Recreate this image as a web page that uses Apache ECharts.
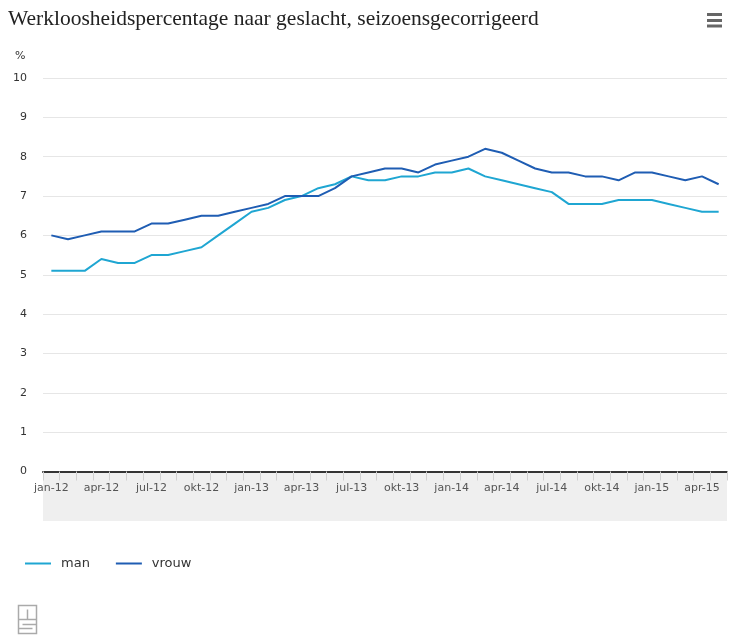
<!DOCTYPE html>
<html>
<head>
<meta charset="utf-8">
<script src="https://cdn.jsdelivr.net/npm/echarts@6/dist/echarts.min.js"></script>
<style>
html,body{margin:0;padding:0;background:#fff;}
#chart{width:750px;height:638px;}
</style>
</head>
<body>
<div id="chart"></div>
<script>
const months = ['jan','feb','mrt','apr','mei','jun','jul','aug','sep','okt','nov','dec'];
const categories = [];
for (const yr of ['12','13','14','15']) {
  for (const m of months) categories.push(m + '-' + yr);
}
categories.length = 41; // jan-12 .. mei-15

const man = [5.1,5.1,5.1,5.4,5.3,5.3,5.5,5.5,5.6,5.7,6.0,6.3,
             6.6,6.7,6.9,7.0,7.2,7.3,7.5,7.4,7.4,7.5,7.5,7.6,
             7.6,7.7,7.5,7.4,7.3,7.2,7.1,6.8,6.8,6.8,6.9,6.9,
             6.9,6.8,6.7,6.6,6.6];
const vrouw = [6.0,5.9,6.0,6.1,6.1,6.1,6.3,6.3,6.4,6.5,6.5,6.6,
               6.7,6.8,7.0,7.0,7.0,7.2,7.5,7.6,7.7,7.7,7.6,7.8,
               7.9,8.0,8.2,8.1,7.9,7.7,7.6,7.6,7.5,7.5,7.4,7.6,
               7.6,7.5,7.4,7.5,7.3];

const titleText = 'Werkloosheidspercentage naar geslacht, seizoensgecorrigeerd';
const unitText = '%';

const chart = echarts.init(document.getElementById('chart'));
chart.setOption({
  animation: false,
  title: {
    text: titleText,
    left: 3, top: 3,
    textStyle: {fontFamily: 'Liberation Serif', fontSize: 21.5, fontWeight: 'normal', color: '#222'}
  },
  legend: {
    left: 20, top: 552,
    itemWidth: 26, itemHeight: 14, itemGap: 26,
    icon: 'path://M0,6 L26,6 L26,8 L0,8 Z',
    textStyle: {fontFamily: 'DejaVu Sans', fontSize: 13, color: '#333', padding: [0,0,0,5]},
    data: ['man','vrouw']
  },
  grid: {left: 43, right: 23, top: 78, bottom: 166.5, containLabel: false},
  xAxis: {
    type: 'category',
    data: categories,
    boundaryGap: true,
    axisLine: {lineStyle: {color: '#333', width: 2}},
    axisTick: {show: true, interval: 0, length: 9, lineStyle: {color: '#d0d0d0', width: 1}},
    axisLabel: {interval: 2, fontFamily: 'DejaVu Sans', fontSize: 11, color: '#555', margin: 11},
    z: 5
  },
  yAxis: {
    type: 'value', min: 0, max: 10, interval: 1,
    axisLine: {show: false}, axisTick: {show: false},
    axisLabel: {fontFamily: 'DejaVu Sans', fontSize: 11, color: '#333', margin: 16},
    splitLine: {lineStyle: {color: '#e6e6e6'}}
  },
  graphic: [
    {type: 'rect', z: 1, left: 43, top: 472, shape: {width: 684, height: 49}, style: {fill: '#efefef'}, silent: true},
    {type: 'text', left: 15, top: 51, style: {text: unitText, font: '11px "DejaVu Sans"', fill: '#333'}},
    {type: 'rect', left: 707, top: 13, shape: {width: 15, height: 3}, style: {fill: '#666'}},
    {type: 'rect', left: 707, top: 19, shape: {width: 15, height: 3}, style: {fill: '#666'}},
    {type: 'rect', left: 707, top: 24.5, shape: {width: 15, height: 3}, style: {fill: '#666'}},
    {type: 'group', left: 16, top: 603, children: [
      {type: 'rect', shape: {x: 0, y: 0, width: 18, height: 28}, style: {fill: 'none', stroke: '#aaa', lineWidth: 1.5}},
      {type: 'line', shape: {x1: 0, y1: 14, x2: 18, y2: 14}, style: {stroke: '#aaa', lineWidth: 1.5}},
      {type: 'line', shape: {x1: 9, y1: 4, x2: 9, y2: 14}, style: {stroke: '#aaa', lineWidth: 1.5}},
      {type: 'line', shape: {x1: 4, y1: 19, x2: 18, y2: 19}, style: {stroke: '#aaa', lineWidth: 1.5}},
      {type: 'line', shape: {x1: 0, y1: 23, x2: 14, y2: 23}, style: {stroke: '#aaa', lineWidth: 1.5}}
    ]}
  ],
  series: [
    {name: 'man', type: 'line', data: man, symbol: 'none', color: '#1fa6d2', lineStyle: {width: 2, color: '#1fa6d2'}, z: 3},
    {name: 'vrouw', type: 'line', data: vrouw, symbol: 'none', color: '#1f5db3', lineStyle: {width: 2, color: '#1f5db3'}, z: 4}
  ]
});
</script>
</body>
</html>
